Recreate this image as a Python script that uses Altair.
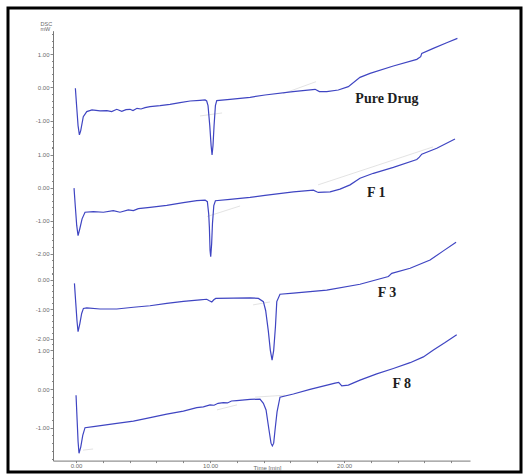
import math
import altair as alt
import pandas as pd

# ---------------- data (time in min, heat flow in mW) ----------------
pure_t = [-0.05, 0.05, 0.15, 0.25, 0.35, 0.54, 0.80, 1.19, 1.79, 2.30, 2.66, 3.04, 3.41, 3.73, 4.03,
          4.25, 4.55, 4.85, 5.15, 5.52, 6.27, 7.01, 7.76, 8.51, 9.25, 9.63, 9.75, 9.85, 9.98, 10.08,
          10.15, 10.22, 10.30, 10.40, 10.50, 11.49, 12.99, 14.10, 16.19, 17.84, 18.16, 18.71, 19.57,
          20.32, 21.19, 21.94, 23.68, 25.43, 25.72, 25.80, 26.66, 27.66, 28.46]
pure_v = [-0.03, -0.60, -1.15, -1.43, -1.30, -0.88, -0.73, -0.68, -0.71, -0.70, -0.73, -0.66, -0.72, -0.67, -0.66,
          -0.70, -0.63, -0.65, -0.61, -0.58, -0.55, -0.51, -0.46, -0.41, -0.39, -0.38, -0.41, -0.55, -1.15, -1.75,
          -2.03, -1.75, -1.15, -0.55, -0.40, -0.36, -0.30, -0.23, -0.13, -0.06, -0.13, -0.13, -0.08,
          0.02, 0.30, 0.42, 0.64, 0.84, 0.92, 1.02, 1.17, 1.34, 1.47]

f1_t = [-0.15, -0.05, 0.05, 0.15, 0.28, 0.45, 0.67, 1.29, 2.04, 2.78, 3.28, 3.90, 4.28, 4.65, 5.52,
        6.77, 8.01, 9.01, 9.63, 9.80, 9.90, 9.95, 10.00, 10.05, 10.12, 10.18, 10.28, 10.40, 11.49,
        12.99, 14.10, 16.22, 17.71, 17.96, 18.08, 18.96, 19.70, 20.45, 21.19, 22.19, 23.68, 25.43,
        25.62, 25.80, 26.92, 28.28]
f1_v = [-0.02, -0.60, -1.15, -1.46, -1.25, -0.95, -0.75, -0.73, -0.75, -0.70, -0.75, -0.68, -0.70, -0.64, -0.60,
        -0.54, -0.46, -0.40, -0.38, -0.43, -0.80, -1.20, -1.90, -2.10, -1.70, -1.10, -0.55, -0.40, -0.36,
        -0.30, -0.24, -0.13, -0.08, -0.13, -0.15, -0.13, -0.05, 0.08, 0.28, 0.43, 0.61, 0.85,
        0.92, 1.01, 1.19, 1.47]

f3_t = [-0.12, -0.02, 0.07, 0.15, 0.28, 0.42, 0.55, 0.80, 1.79, 3.04, 4.28, 5.52, 6.77, 8.01, 9.25,
        9.75, 9.95, 10.13, 10.30, 10.43, 11.74, 12.99, 13.61, 13.98, 14.15, 14.35, 14.50, 14.63, 14.75,
        14.88, 14.98, 15.22, 16.22, 18.71, 21.19, 23.31, 23.56, 24.93, 26.42, 27.41, 28.36]
f3_v = [-0.13, -0.80, -1.40, -1.77, -1.50, -1.15, -0.98, -0.96, -1.00, -1.00, -0.94, -0.89, -0.81, -0.74, -0.69,
        -0.67, -0.72, -0.76, -0.68, -0.64, -0.63, -0.62, -0.64, -0.75, -1.05, -1.75, -2.40, -2.73, -2.40,
        -1.60, -0.75, -0.50, -0.46, -0.36, -0.16, 0.10, 0.21, 0.38, 0.66, 0.97, 1.26]

f8_t = [0.00, 0.08, 0.15, 0.22, 0.35, 0.50, 0.67, 1.29, 3.04, 4.28, 5.27, 6.77, 8.01, 9.01, 9.50,
        10.00, 10.30, 10.60, 10.99, 11.30, 11.60, 11.99, 12.99, 13.73, 13.98, 14.18, 14.40, 14.55, 14.65,
        14.75, 14.85, 15.00, 15.22, 16.22, 17.46, 19.33, 19.60, 19.83, 20.32, 21.19, 22.44, 23.68,
        24.93, 25.92, 26.67, 27.54, 28.41]
f8_v = [-0.16, -0.80, -1.35, -1.66, -1.50, -1.20, -1.00, -0.97, -0.89, -0.83, -0.76, -0.65, -0.57, -0.48, -0.46,
        -0.41, -0.42, -0.37, -0.35, -0.36, -0.31, -0.30, -0.27, -0.26, -0.37, -0.54, -1.06, -1.40, -1.47,
        -1.40, -1.06, -0.59, -0.21, -0.13, -0.01, 0.15, 0.17, 0.08, 0.10, 0.23, 0.39, 0.53,
        0.68, 0.83, 1.01, 1.20, 1.40]

# faint baseline / tangent segments: (segment id, t, v)
pure_tan = [(1, 15.45, -0.19), (1, 17.91, 0.17), (2, 9.25, -0.86), (2, 10.90, -0.77)]
f1_tan = [(1, 9.78, -0.88), (1, 12.24, -0.56), (2, 18.06, 0.08), (2, 26.64, 1.23)]
f3_tan = [(1, 13.21, -0.86), (1, 14.48, -0.76)]
f8_tan = [(1, 10.52, -0.54), (1, 12.01, -0.41), (2, 0.52, -1.58), (2, 1.27, -1.55),
          (3, 13.36, -0.21), (3, 15.60, -0.16)]

labels = ["Pure Drug", "F 1", "F 3", "F 8"]
label_t = [23.2, 22.4, 23.2, 24.3]
label_v = [-0.35, -0.17, -0.46, 0.13]

x_tick_values = [0, 2, 4, 6, 8, 10, 12, 14, 16, 18, 20, 22, 24, 26, 28]

# ---------------- layout helpers ----------------
BLUE = "#3f45c2"
AXIS_GRAY = "#6a6a6a"
PLOT_H = 464
XS = alt.Scale(domain=[-1.72, 29.4], range=[45, 462], zero=False, nice=False)

X_AXIS = alt.Axis(
    orient="bottom", offset=-(PLOT_H - 452.6), values=x_tick_values,
    labelExpr="datum.value % 10 === 0 ? format(datum.value, '.2f') : ''",
    tickSize=2, labelPadding=0, labelFontSize=6, labelColor=AXIS_GRAY,
    domainColor="#777777", tickColor="#888888", grid=False,
    labelOverlap=False, labelFlush=False,
    title="Time [min]", titleFontSize=6, titleFontWeight="normal", titleColor=AXIS_GRAY,
    titleX=259, titleY=4, titleBaseline="top",
)

MAJOR = "abs(datum.value - round(datum.value)) < 0.001"


def y_axis(dom, title):
    lo = math.ceil(dom[0] * 5 - 1e-6)
    hi = math.floor(dom[1] * 5 + 1e-6)
    vals = [round(k * 0.2, 1) for k in range(lo, hi + 1)]
    kw = dict(
        orient="left", offset=-45, values=vals,
        labelExpr=MAJOR + " ? ((datum.value < 0 ? '-' : '') + format(abs(datum.value), '.2f')) : ''",
        tickSize={"condition": {"test": MAJOR, "value": 3}, "value": 1.5},
        labelPadding=1, labelFontSize=6, labelColor=AXIS_GRAY,
        domainColor="#777777", tickColor="#888888", grid=False,
        labelOverlap=False, labelFlush=False,
    )
    if title:
        kw.update(title=title, titleAngle=0, titleAlign="left", titleBaseline="top",
                  titleX=-13, titleY=13, titleFontSize=5.5, titleFontWeight="normal",
                  titleColor=AXIS_GRAY, titleLineHeight=5.5)
    else:
        kw.update(title=None)
    return alt.Axis(**kw)


def panel(t, v, tang, label, lt, lv, dom, rng, title=None):
    ys = alt.Scale(domain=dom, range=rng, zero=False, nice=False)
    yenc = alt.Y("v:Q", scale=ys, axis=y_axis(dom, title))
    xenc = alt.X("t:Q", scale=XS, axis=X_AXIS)
    line_df = pd.DataFrame({"t": t, "v": v})
    tan_df = pd.DataFrame(tang, columns=["seg", "t", "v"])
    lab_df = pd.DataFrame({"t": [lt], "v": [lv], "label": [label]})
    tan = alt.Chart(tan_df).mark_line(color="#dcdcdc", strokeWidth=0.8).encode(
        x=xenc, y=yenc, detail="seg:N")
    line = alt.Chart(line_df).mark_line(color=BLUE, strokeWidth=1.2).encode(x=xenc, y=yenc)
    lab = alt.Chart(lab_df).mark_text(
        font="Liberation Serif", fontWeight="bold", fontSize=14, color="#1e1e1e",
        align="center", baseline="middle").encode(x=xenc, y=yenc, text="label:N")
    return alt.layer(tan, line, lab)


p1 = panel(pure_t, pure_v, pure_tan, labels[0], label_t[0], label_v[0],
           [-1.9, 1.7], [142.6, 22.7], title=["DSC", "mW"])
p2 = panel(f1_t, f1_v, f1_tan, labels[1], label_t[1], label_v[1],
           [-2.6, 1.2], [265.3, 139.9])
p3 = panel(f3_t, f3_v, f3_tan, labels[2], label_t[2], label_v[2],
           [-2.25, 0.2], [337.9, 265.6])
p4 = panel(f8_t, f8_v, f8_tan, labels[3], label_t[3], label_v[3],
           [-1.85, 1.15], [452.6, 336.5])

chart = (
    alt.layer(p1, p2, p3, p4)
    .resolve_scale(y="independent")
    .properties(
        width=513, height=PLOT_H,
        padding={"left": 8, "top": 8, "right": 10, "bottom": 4},
        autosize=alt.AutoSizeParams(type="none"),
        background="white",
    )
    .configure_view(stroke="black", strokeWidth=3)
    .configure_axis(labelFont="Liberation Sans", titleFont="Liberation Sans")
)

chart.save("out.html", embed_options={"renderer": "svg", "actions": False})
